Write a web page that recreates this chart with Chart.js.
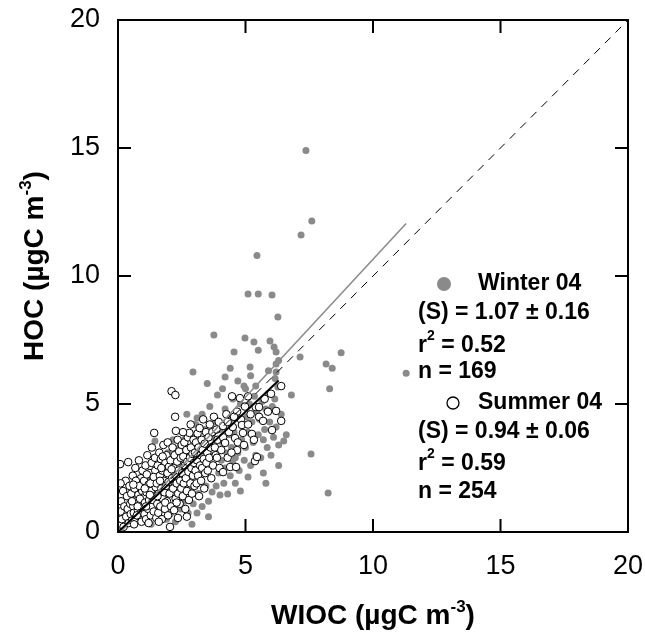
<!DOCTYPE html>
<html>
<head>
<meta charset="utf-8">
<script src="https://cdn.jsdelivr.net/npm/chart.js@4.4.1/dist/chart.umd.min.js"></script>
<style>
  html, body { margin: 0; padding: 0; background: #fff; }
  canvas { display: block; }
</style>
</head>
<body>
<canvas id="chart" width="645" height="632"></canvas>
<script>
// WIOC (x) vs HOC (y), µgC m-3
const winterPoints = [
  [7.37,14.9],[7.6,12.15],[7.18,11.6],[5.45,10.8],[5.1,9.3],[5.5,9.3],[6.04,9.26],[6.27,8.4],
  [3.76,7.7],[4.98,7.58],[5.33,7.42],[5.96,7.46],[6.12,7.23],[6.2,7.03],[4.55,7.03],[5.5,7.1],
  [6.3,6.7],[7.14,6.84],[5.18,6.45],[4.2,6.05],[6.2,6.25],[5.4,5.7],[6.27,5.66],[8.75,7.0],
  [8.16,6.56],[8.4,6.4],[8.3,5.6],[11.3,6.2],[7.57,3.05],[8.24,1.52],[2.94,6.25],[6.8,5.35],
  [6.6,3.8],[6.5,3.55],[5.1,2.15],[4.94,5.7],[6.2,6.56],[6.16,6.0],
  [0.8,0.6],[1.0,1.3],[1.1,0.4],[1.2,2.0],[1.3,0.9],[1.4,1.6],[1.45,3.55],[0.9,1.8],
  [1.6,0.8],[1.7,1.2],[1.8,2.4],[1.9,0.5],[2.0,1.6],[2.05,0.7],[2.1,2.9],[2.2,1.0],[2.3,2.2],
  [2.35,1.4],[2.4,3.3],[2.45,0.9],[1.65,2.8],[1.85,1.9],[2.15,3.6],[2.25,0.4],[2.5,2.6],[1.95,3.1],
  [2.6,1.2],[2.65,2.0],[2.7,3.0],[2.75,0.74],[2.8,1.6],[2.85,2.5],[2.9,3.8],[2.95,1.1],[3.0,2.2],
  [3.05,4.2],[3.1,0.74],[3.1,2.9],[3.15,1.5],[3.2,3.4],[3.25,2.0],[3.3,4.6],[3.3,1.0],[3.35,2.7],
  [3.4,3.1],[3.45,1.8],[3.5,2.4],[2.6,3.6],[3.1,4.45],[2.55,1.7],[3.4,4.0],
  [3.55,1.2],[3.6,3.0],[3.65,2.1],[3.69,1.56],[3.7,3.7],[3.75,2.6],[3.8,4.3],[3.85,1.8],[3.9,5.35],
  [3.9,3.2],[3.95,2.3],[4.0,1.45],[4.0,4.0],[4.05,2.8],[4.1,3.5],[4.15,1.9],[4.2,4.8],[4.2,2.5],
  [4.27,3.09],[4.3,1.48],[4.35,3.8],[4.4,2.2],[4.4,4.4],[4.45,3.3],[4.5,2.7],[4.5,5.2],[3.6,4.9],[4.1,5.6],
  [4.55,3.9],[4.6,1.9],[4.65,4.6],[4.7,3.1],[4.75,2.4],[4.8,5.0],[4.85,3.6],[4.9,4.2],[4.95,2.8],
  [5.0,5.6],[5.0,3.3],[5.05,4.5],[5.1,3.9],[5.15,5.0],[5.2,2.6],[5.25,4.3],[5.3,3.5],[5.35,5.3],
  [5.4,3.0],[5.45,4.7],[5.5,3.8],[4.7,5.9],[5.2,6.1],[4.6,2.9],
  [5.55,4.4],[5.6,2.9],[5.65,5.1],[5.7,3.6],[5.75,4.0],[5.8,4.8],[5.85,3.3],[5.9,5.4],[5.95,4.3],
  [6.0,3.0],[6.05,4.9],[6.1,3.7],[6.15,5.2],[6.2,4.1],[6.3,3.4],[6.4,4.6],
  [1.3,0.3],[2.9,0.3],[3.55,0.6],[4.8,1.6],[5.7,2.3],[6.3,2.6],[5.9,6.3],[4.4,6.4],[3.5,5.8],[2.7,4.6],[5.8,1.9]
];

const summerPoints = [
  [0.05,0.3],[0.08,2.65],[0.1,0.8],[0.12,1.2],[0.15,0.5],[0.2,1.6],[0.22,0.2],[0.25,1.0],[0.3,2.0],
  [0.32,0.6],[0.35,1.4],[0.38,0.9],[0.4,2.73],[0.42,0.35],[0.45,1.8],[0.48,1.1],[0.5,0.7],[0.1,1.9],
  [0.52,1.5],[0.55,0.45],[0.58,2.2],[0.6,1.0],[0.62,0.75],[0.65,1.7],[0.68,2.5],[0.7,0.55],[0.72,1.25],
  [0.75,1.95],[0.78,0.85],[0.8,1.45],[0.82,2.8],[0.85,0.6],[0.88,1.1],[0.9,2.1],[0.92,0.4],[0.95,1.6],
  [0.98,0.95],[1.0,1.35],[0.55,1.2],[0.63,0.3],[0.7,2.0],[0.77,1.0],[0.84,1.8],[0.9,0.75],[0.96,2.4],
  [0.6,1.85],[0.74,0.65],[0.86,1.3],
  [1.02,2.0],[1.04,0.7],[1.06,1.15],[1.08,2.6],[1.1,0.5],[1.12,1.55],[1.15,3.0],[1.18,0.9],[1.2,1.85],
  [1.22,1.25],[1.25,2.3],[1.28,0.65],[1.3,1.6],[1.32,2.7],[1.35,1.0],[1.38,2.0],[1.4,0.8],[1.42,3.87],
  [1.44,1.4],[1.46,2.4],[1.48,1.75],[1.5,0.55],[1.05,1.7],[1.13,2.25],[1.2,0.35],[1.27,1.9],[1.33,3.3],
  [1.37,1.25],[1.45,2.9],[1.1,1.0],[1.25,1.45],[1.4,2.15],
  [1.52,1.9],[1.54,1.1],[1.56,2.6],[1.58,0.75],[1.6,1.5],[1.62,3.1],[1.64,2.2],[1.66,1.0],[1.68,2.85],
  [1.7,1.7],[1.72,0.5],[1.74,2.4],[1.76,1.3],[1.78,3.4],[1.8,2.0],[1.82,1.55],[1.84,0.9],[1.86,2.7],
  [1.88,1.8],[1.9,3.0],[1.92,1.2],[1.94,2.3],[1.96,0.65],[1.98,1.95],[2.0,2.55],[1.55,1.4],[1.65,2.0],
  [1.75,2.95],[1.85,1.15],[1.95,3.5],[1.6,0.4],[1.7,2.5],
  [2.02,1.5],[2.04,0.2],[2.06,2.8],[2.08,1.0],[2.1,5.5],[2.12,2.1],[2.14,3.3],[2.16,1.7],[2.18,2.5],
  [2.2,0.85],[2.22,3.0],[2.24,4.5],[2.25,5.35],[2.26,1.3],[2.27,3.95],[2.28,2.2],[2.3,1.9],[2.32,2.75],
  [2.34,3.6],[2.35,0.55],[2.36,1.5],[2.38,2.4],[2.4,3.15],[2.42,1.1],[2.44,2.0],[2.46,2.9],[2.48,1.7],
  [2.5,3.4],[2.1,2.45],[2.3,1.15],
  [2.52,2.3],[2.54,1.4],[2.56,2.95],[2.58,1.9],[2.6,3.5],[2.62,2.6],[2.64,0.9],[2.66,2.1],[2.68,3.2],
  [2.7,1.6],[2.72,2.75],[2.74,3.7],[2.76,2.35],[2.78,1.25],[2.8,3.87],[2.82,2.9],[2.84,1.9],[2.86,3.3],
  [2.88,2.5],[2.9,1.5],[2.92,3.05],[2.94,2.2],[2.96,3.6],[2.98,2.7],[3.0,1.8],[2.55,3.9],[2.7,0.6],[2.85,4.2],
  [3.02,3.1],[3.04,2.4],[3.06,3.5],[3.08,1.9],[3.1,2.8],[3.12,3.85],[3.14,2.2],[3.16,3.3],[3.18,1.4],
  [3.2,4.06],[3.22,2.6],[3.24,3.0],[3.26,2.0],[3.28,3.6],[3.3,2.5],[3.32,3.2],[3.34,4.4],[3.36,2.85],
  [3.38,1.7],[3.4,3.45],[3.42,2.3],[3.45,3.9],[3.47,2.7],[3.5,3.1],
  [3.52,2.4],[3.55,3.7],[3.58,2.9],[3.6,4.2],[3.63,3.3],[3.66,2.1],[3.7,3.9],[3.73,2.6],[3.76,4.5],
  [3.8,3.3],[3.83,3.0],[3.86,4.0],[3.88,2.9],[3.9,3.6],[3.95,4.3],[3.98,2.5],
  [4.05,3.2],[4.12,4.14],[4.12,2.34],[4.12,3.7],[4.2,3.48],[4.25,4.6],[4.3,2.9],[4.35,3.9],[4.4,2.54],
  [4.47,5.3],[4.5,4.1],[4.59,3.67],[4.63,2.54],[4.67,4.7],[4.67,3.2],[4.7,3.5],[4.78,5.23],[4.82,4.4],
  [4.86,4.18],[4.9,3.87],[4.94,3.4],[4.98,4.9],[4.3,4.3],[4.55,4.5],[4.45,3.1],
  [5.1,5.3],[5.25,3.83],[5.33,3.6],[5.37,2.77],[5.4,4.88],[5.45,2.93],[5.53,4.88],[5.53,4.5],[5.69,4.34],
  [5.88,4.7],[6.04,3.98],[6.2,4.73],[6.4,4.34],[6.4,5.7],[5.2,4.6],[5.75,5.2],[6.0,5.4],[5.1,4.2]
];

// regression line end points and 1:1 line
const winterFit = [[0.1, 0.0], [11.3, 12.05]];
const summerFit = [[0.0, 0.0], [6.3, 5.92]];
const oneToOne = [[0, 0], [20, 20]];

const axisTicks = [0, 5, 10, 15, 20];

const winterStats = ['Winter 04', '(S) = 1.07 ± 0.16', '0.52', 'n = 169'];
const summerStats = ['Summer 04', '(S) = 0.94 ± 0.06', '0.59', 'n = 254'];

const GREY = '#8a8a8a';
const FONT = '"Liberation Sans", Arial, Helvetica, sans-serif';

const toXY = arr => arr.map(p => ({ x: p[0], y: p[1] }));

// draws text with superscript pieces, parts = [[text, isSup], ...]
function drawParts(ctx, parts, x, y, size) {
  let cx = x;
  parts.forEach(([txt, sup]) => {
    ctx.font = 'bold ' + (sup ? Math.round(size * 0.62) : size) + 'px ' + FONT;
    ctx.fillText(txt, cx, sup ? y - size * 0.42 : y);
    cx += ctx.measureText(txt).width;
  });
}
function partsWidth(ctx, parts, size) {
  let w = 0;
  parts.forEach(([txt, sup]) => {
    ctx.font = 'bold ' + (sup ? Math.round(size * 0.62) : size) + 'px ' + FONT;
    w += ctx.measureText(txt).width;
  });
  return w;
}

// keep the plot box where it is in the figure, whatever the label overhang
function fixScale(s, size) {
  if (s.isHorizontal()) s.height = size; else s.width = size;
  s.paddingTop = 0; s.paddingBottom = 0; s.paddingLeft = 0; s.paddingRight = 0;
}

const decorPlugin = {
  id: 'decor',
  afterDraw(chart) {
    const { ctx, chartArea: a, scales } = chart;
    ctx.save();
    ctx.strokeStyle = '#000';
    ctx.fillStyle = '#000';

    // frame
    ctx.lineWidth = 2;
    ctx.strokeRect(a.left, a.top, a.right - a.left, a.bottom - a.top);

    // inward ticks on all four sides
    const tl = 13;
    ctx.beginPath();
    scales.x.ticks.forEach(t => {
      const px = scales.x.getPixelForValue(t.value);
      ctx.moveTo(px, a.bottom); ctx.lineTo(px, a.bottom - tl);
      ctx.moveTo(px, a.top); ctx.lineTo(px, a.top + tl);
    });
    scales.y.ticks.forEach(t => {
      const py = scales.y.getPixelForValue(t.value);
      ctx.moveTo(a.left, py); ctx.lineTo(a.left + tl, py);
      ctx.moveTo(a.right, py); ctx.lineTo(a.right - tl, py);
    });
    ctx.stroke();

    // axis titles
    const ts = 28;
    ctx.textBaseline = 'alphabetic';
    ctx.textAlign = 'left';
    const xTitle = [['WIOC (µgC m', false], ['-3', true], [')', false]];
    const wx = partsWidth(ctx, xTitle, ts);
    drawParts(ctx, xTitle, (a.left + a.right) / 2 - wx / 2, 624, ts);

    const yTitle = [['HOC (µgC m', false], ['-3', true], [')', false]];
    const wy = partsWidth(ctx, yTitle, ts);
    ctx.save();
    ctx.translate(43, 266);
    ctx.rotate(-Math.PI / 2);
    drawParts(ctx, yTitle, -wy / 2, 0, ts);
    ctx.restore();

    // statistics block
    const fs = 23;
    ctx.textBaseline = 'middle';
    const left = 418, nameX = 478;
    const rows = [
      { stats: winterStats, y: [284, 313, 346, 372] },
      { stats: summerStats, y: [403, 432, 464, 492] }
    ];
    rows.forEach((r, i) => {
      ctx.beginPath();
      if (i === 0) {
        ctx.fillStyle = GREY;
        ctx.arc(444, r.y[0], 7, 0, Math.PI * 2);
        ctx.fill();
      } else {
        ctx.fillStyle = '#fff';
        ctx.lineWidth = 1.3;
        ctx.arc(453, r.y[0], 6, 0, Math.PI * 2);
        ctx.fill();
        ctx.stroke();
      }
      ctx.fillStyle = '#000';
      drawParts(ctx, [[r.stats[0], false]], nameX, r.y[0], fs);
      drawParts(ctx, [[r.stats[1], false]], left, r.y[1], fs);
      drawParts(ctx, [['r', false], ['2', true], [' = ' + r.stats[2], false]], left, r.y[2], fs);
      drawParts(ctx, [[r.stats[3], false]], left, r.y[3], fs);
    });
    ctx.restore();
  }
};

const tickFont = { family: FONT, size: 27 };

new Chart(document.getElementById('chart'), {
  type: 'scatter',
  data: {
    datasets: [
      {
        type: 'line', data: toXY(oneToOne), borderColor: '#000', borderWidth: 1,
        borderDash: [8, 7], pointRadius: 0, order: 0
      },
      {
        type: 'line', data: toXY(summerFit), borderColor: '#000', borderWidth: 2,
        pointRadius: 0, order: 0
      },
      {
        type: 'line', data: toXY(winterFit), borderColor: '#8c8c8c', borderWidth: 1.6,
        pointRadius: 0, order: 0
      },
      {
        label: 'Summer 04', data: toXY(summerPoints), pointRadius: 3.8, pointBorderWidth: 1,
        borderColor: '#000', backgroundColor: '#fff', order: 1
      },
      {
        label: 'Winter 04', data: toXY(winterPoints), pointRadius: 3.5, pointBorderWidth: 0,
        borderColor: GREY, backgroundColor: GREY, order: 2
      }
    ]
  },
  options: {
    responsive: false,
    animation: false,
    devicePixelRatio: 1,
    layout: { padding: { top: 20, right: 17, left: 0, bottom: 0 } },
    plugins: { legend: { display: false }, tooltip: { enabled: false } },
    scales: {
      x: {
        type: 'linear', min: 0, max: 20,
        afterBuildTicks: s => { s.ticks = axisTicks.map(v => ({ value: v })); },
        afterFit: s => fixScale(s, 100),
        ticks: { font: tickFont, color: '#000', padding: 10, maxRotation: 0 },
        grid: { display: false },
        border: { display: false }
      },
      y: {
        type: 'linear', min: 0, max: 20,
        afterBuildTicks: s => { s.ticks = axisTicks.map(v => ({ value: v })); },
        afterFit: s => fixScale(s, 118),
        ticks: { font: tickFont, color: '#000', padding: 10 },
        grid: { display: false },
        border: { display: false }
      }
    }
  },
  plugins: [decorPlugin]
});
</script>
</body>
</html>
